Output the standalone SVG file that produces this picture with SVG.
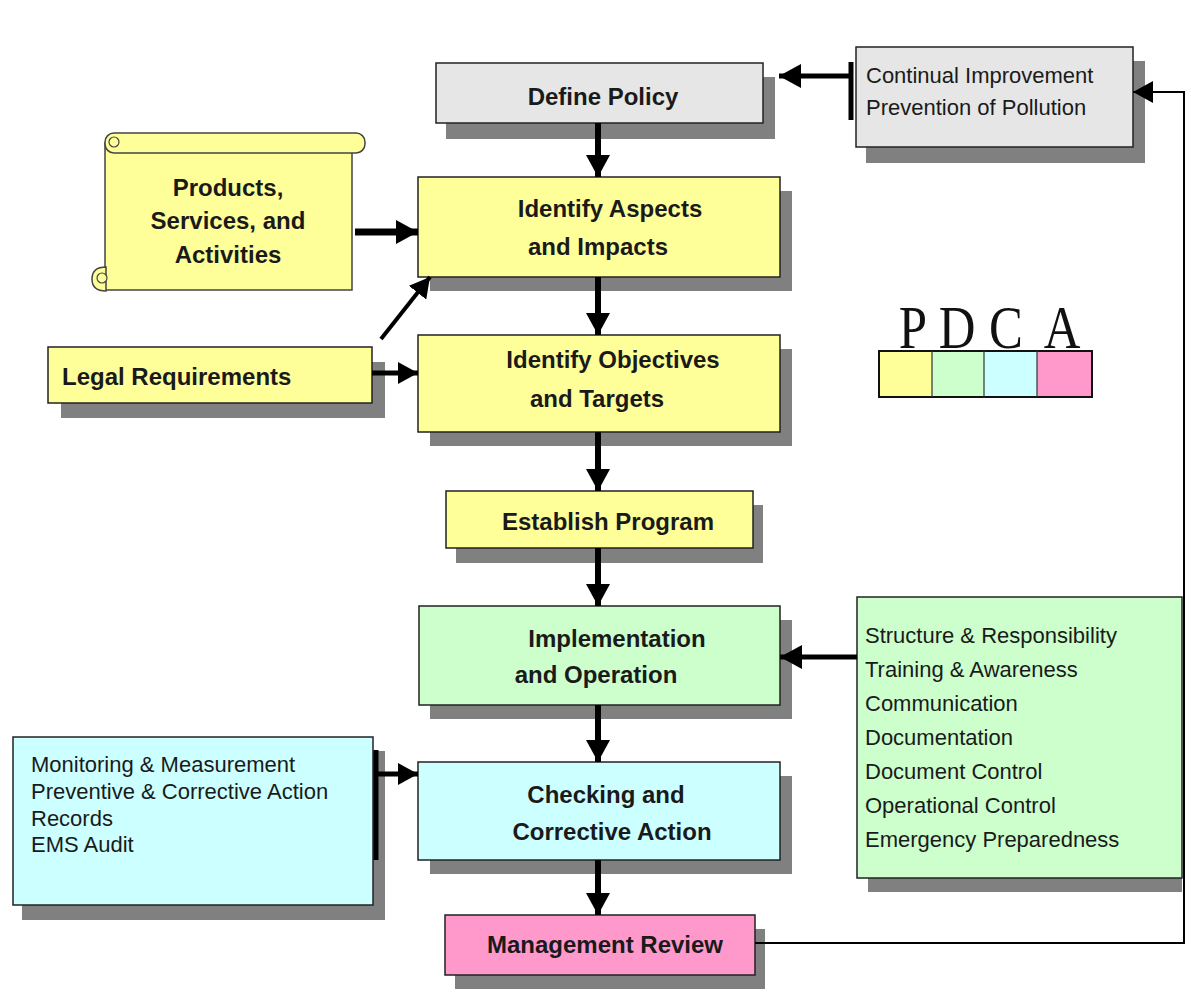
<svg xmlns="http://www.w3.org/2000/svg" width="1191" height="1006" viewBox="0 0 1191 1006">
<style>
.box{stroke:#222;stroke-width:1.5}
.sh{fill:#808080}
.t{font-family:"Liberation Sans",Arial,sans-serif;font-size:24px;font-weight:bold;fill:#1a1a1a}
.r{font-family:"Liberation Sans",Arial,sans-serif;font-size:22px;fill:#1a1a1a}
.pd{font-family:"Liberation Serif","Times New Roman",serif;font-size:62px;fill:#111}
.y{fill:#FFFF99}.g{fill:#E6E6E6}.gr{fill:#CCFFCC}.c{fill:#CCFFFF}.p{fill:#FF99CC}
.ar{stroke:#000;fill:none}
</style>
<defs>
<marker id="ah" markerUnits="userSpaceOnUse" markerWidth="24" markerHeight="24" refX="22" refY="12" orient="auto"><path d="M0,0 L22,12 L0,24 z" fill="#000"/></marker>
<marker id="ahs" markerUnits="userSpaceOnUse" markerWidth="22" markerHeight="22" refX="20" refY="11" orient="auto"><path d="M0,0 L20,11 L0,22 z" fill="#000"/></marker>
</defs>
<rect width="1191" height="1006" fill="#fff"/>

<g id="define-policy">
<rect class="sh" x="446" y="77" width="329" height="62"/>
<rect class="box g" x="436" y="63" width="327" height="60"/>
<text class="t" x="603" y="105" text-anchor="middle">Define Policy</text>
</g>

<g id="continual-improvement">
<rect class="sh" x="866" y="61" width="279" height="102"/>
<rect class="box g" x="856" y="47" width="277" height="100"/>
<text class="r" x="866" y="83">Continual Improvement</text>
<text class="r" x="866" y="115">Prevention of Pollution</text>
</g>

<g id="products">
<rect class="y" x="105" y="143" width="247" height="147" stroke="#444" stroke-width="1.5"/>
<rect class="y" x="105" y="133" width="260" height="20" rx="9" stroke="#444" stroke-width="1.5"/>
<circle cx="114" cy="142" r="5" class="y" stroke="#444" stroke-width="1.2"/>
<path d="M106,267 Q92,267 92,279 Q92,291 106,291 Z" class="y" stroke="#444" stroke-width="1.5"/>
<circle cx="102" cy="278" r="5" class="y" stroke="#444" stroke-width="1.2"/>
<text class="t" x="228" y="196" text-anchor="middle">Products,</text>
<text class="t" x="228" y="229" text-anchor="middle">Services, and</text>
<text class="t" x="228" y="263" text-anchor="middle">Activities</text>
</g>

<g id="identify-aspects">
<rect class="sh" x="430" y="191" width="362" height="100"/>
<rect class="box y" x="418" y="177" width="362" height="100"/>
<text class="t" x="610" y="217" text-anchor="middle">Identify Aspects</text>
<text class="t" x="598" y="255" text-anchor="middle">and Impacts</text>
</g>

<g id="legal-requirements">
<rect class="sh" x="61" y="362" width="324" height="56"/>
<rect class="box y" x="48" y="347" width="324" height="56"/>
<text class="t" x="62" y="385">Legal Requirements</text>
</g>

<g id="identify-objectives">
<rect class="sh" x="430" y="349" width="362" height="97"/>
<rect class="box y" x="418" y="335" width="362" height="97"/>
<text class="t" x="613" y="368" text-anchor="middle">Identify Objectives</text>
<text class="t" x="597" y="407" text-anchor="middle">and Targets</text>
</g>

<g id="pdca">
<text class="pd" transform="translate(913,348) scale(0.82,1)" text-anchor="middle">P</text>
<text class="pd" transform="translate(957,348) scale(0.82,1)" text-anchor="middle">D</text>
<text class="pd" transform="translate(1006,348) scale(0.82,1)" text-anchor="middle">C</text>
<text class="pd" transform="translate(1062,348) scale(0.82,1)" text-anchor="middle">A</text>
<rect x="879" y="351" width="53" height="46" fill="#FFFF99"/>
<rect x="932" y="351" width="52" height="46" fill="#CCFFCC"/>
<rect x="984" y="351" width="53" height="46" fill="#CCFFFF"/>
<rect x="1037" y="351" width="55" height="46" fill="#FF99CC"/>
<rect x="879" y="351" width="213" height="46" fill="none" stroke="#111" stroke-width="2"/>
<path d="M932,351 V397 M984,351 V397 M1037,351 V397" stroke="#333" stroke-width="1.2"/>
</g>

<g id="establish-program">
<rect class="sh" x="456" y="505" width="307" height="58"/>
<rect class="box y" x="446" y="491" width="307" height="57"/>
<text class="t" x="608" y="530" text-anchor="middle">Establish Program</text>
</g>

<g id="implementation">
<rect class="sh" x="430" y="620" width="362" height="99"/>
<rect class="box gr" x="419" y="606" width="361" height="99"/>
<text class="t" x="617" y="647" text-anchor="middle">Implementation</text>
<text class="t" x="596" y="683" text-anchor="middle">and Operation</text>
</g>

<g id="structure">
<rect class="sh" x="868" y="611" width="314" height="281"/>
<rect class="box gr" x="857" y="597" width="325" height="281"/>
<text class="r" x="865" y="643">Structure &amp; Responsibility</text>
<text class="r" x="865" y="677">Training &amp; Awareness</text>
<text class="r" x="865" y="711">Communication</text>
<text class="r" x="865" y="745">Documentation</text>
<text class="r" x="865" y="779">Document Control</text>
<text class="r" x="865" y="813">Operational Control</text>
<text class="r" x="865" y="847">Emergency Preparedness</text>
</g>

<g id="monitoring">
<rect class="sh" x="22" y="751" width="363" height="169"/>
<rect class="box c" x="13" y="737" width="360" height="168"/>
<text class="r" x="31" y="772">Monitoring &amp; Measurement</text>
<text class="r" x="31" y="799">Preventive &amp; Corrective Action</text>
<text class="r" x="31" y="826">Records</text>
<text class="r" x="31" y="852">EMS Audit</text>
</g>

<g id="checking">
<rect class="sh" x="430" y="776" width="362" height="98"/>
<rect class="box c" x="418" y="762" width="362" height="98"/>
<text class="t" x="606" y="803" text-anchor="middle">Checking and</text>
<text class="t" x="612" y="840" text-anchor="middle">Corrective Action</text>
</g>

<g id="management-review">
<rect class="sh" x="455" y="929" width="310" height="60"/>
<rect class="box p" x="445" y="915" width="310" height="60"/>
<text class="t" x="605" y="953" text-anchor="middle">Management Review</text>
</g>

<g id="connectors">
<line class="ar" x1="598" y1="123" x2="598" y2="177" stroke-width="6" marker-end="url(#ah)"/>
<line class="ar" x1="598" y1="277" x2="598" y2="335" stroke-width="6" marker-end="url(#ah)"/>
<line class="ar" x1="598" y1="432" x2="598" y2="491" stroke-width="6" marker-end="url(#ah)"/>
<line class="ar" x1="598" y1="548" x2="598" y2="606" stroke-width="6" marker-end="url(#ah)"/>
<line class="ar" x1="598" y1="705" x2="598" y2="762" stroke-width="6" marker-end="url(#ah)"/>
<line class="ar" x1="598" y1="860" x2="598" y2="915" stroke-width="6" marker-end="url(#ah)"/>
<line class="ar" x1="355" y1="232" x2="418" y2="232" stroke-width="7" marker-end="url(#ah)"/>
<line class="ar" x1="372" y1="373" x2="418" y2="373" stroke-width="5" marker-end="url(#ahs)"/>
<line class="ar" x1="381" y1="339" x2="430" y2="277" stroke-width="4" marker-end="url(#ahs)"/>
<line class="ar" x1="851" y1="76" x2="779" y2="76" stroke-width="5" marker-end="url(#ah)"/>
<line x1="851" y1="62" x2="851" y2="120" stroke="#000" stroke-width="5"/>
<line class="ar" x1="857" y1="657" x2="780" y2="657" stroke-width="5" marker-end="url(#ah)"/>
<line x1="376" y1="750" x2="376" y2="860" stroke="#000" stroke-width="5"/>
<line class="ar" x1="378" y1="774" x2="418" y2="774" stroke-width="5" marker-end="url(#ahs)"/>
<polyline class="ar" points="755,943 1184,943 1184,92 1133,92" stroke-width="2" marker-end="url(#ahs)"/>
</g>
</svg>
